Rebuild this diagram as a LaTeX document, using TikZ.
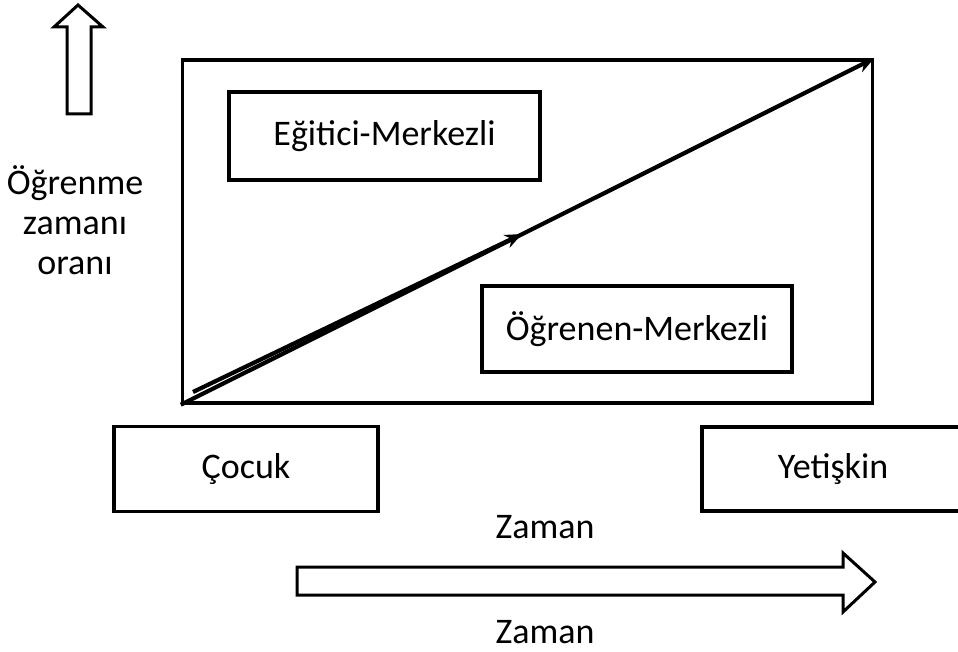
\documentclass[tikz,border=0pt]{standalone}
\usepackage{fontspec}
\setmainfont{Carlito}
\usetikzlibrary{arrows.meta}
\begin{document}
\begin{tikzpicture}[x=1pt,y=-1pt,
  box/.style={draw=black,line width=3.5pt,rectangle,inner sep=0pt,font=\fontsize{36}{40}\selectfont},
  lbl/.style={inner sep=0pt,font=\fontsize{36}{40}\selectfont,align=center},
  blockarrow/.style={draw=black,line width=3pt,fill=white,line join=miter},
  diag/.style={line width=4.2pt,-{Stealth[length=17pt,width=14pt]}}]
\clip (0,0) rectangle (958,652);
\fill[white] (0,0) rectangle (958,652);
% main frame
\node[box,minimum width=690pt,minimum height=343pt] (main) at (527.5,231.5) {};
% inner boxes
\node[box,minimum width=311pt,minimum height=88pt] (teach) at (384.5,136) {Eğitici-Merkezli};
\node[box,minimum width=310pt,minimum height=86pt] (learn) at (637,329) {Öğrenen-Merkezli};
\node[box,minimum width=264pt,minimum height=85pt] (child) at (246,469) {Çocuk};
\node[box,minimum width=262pt,minimum height=84pt] (adult) at (833,469) {Yetişkin};
% diagonal arrows
\coordinate (b0) at (193,392);
\coordinate (b1) at (522,234);
\draw[diag] (main.south west) -- (main.north east);
\draw[diag] (b0) -- (b1);
% left labels
\node[lbl,anchor=base] (ylab1) at (75,195) {Öğrenme};
\node[lbl,anchor=base] (ylab2) at (75,235) {zamanı};
\node[lbl,anchor=base] (ylab3) at (75,275) {oranı};
\node[lbl,anchor=base] (z1) at (545,538) {Zaman};
\node[lbl,anchor=base] (z2) at (545,643) {Zaman};
% up block arrow
\draw[blockarrow] (78,5) -- (103,27) -- (91,27) -- (91,114) -- (67,114) -- (67,27) -- (54,27) -- cycle;
% right block arrow
\draw[blockarrow] (297,567) -- (843,567) -- (843,553) -- (875,582) -- (843,612) -- (843,595) -- (297,595) -- cycle;
\end{tikzpicture}
\end{document}
